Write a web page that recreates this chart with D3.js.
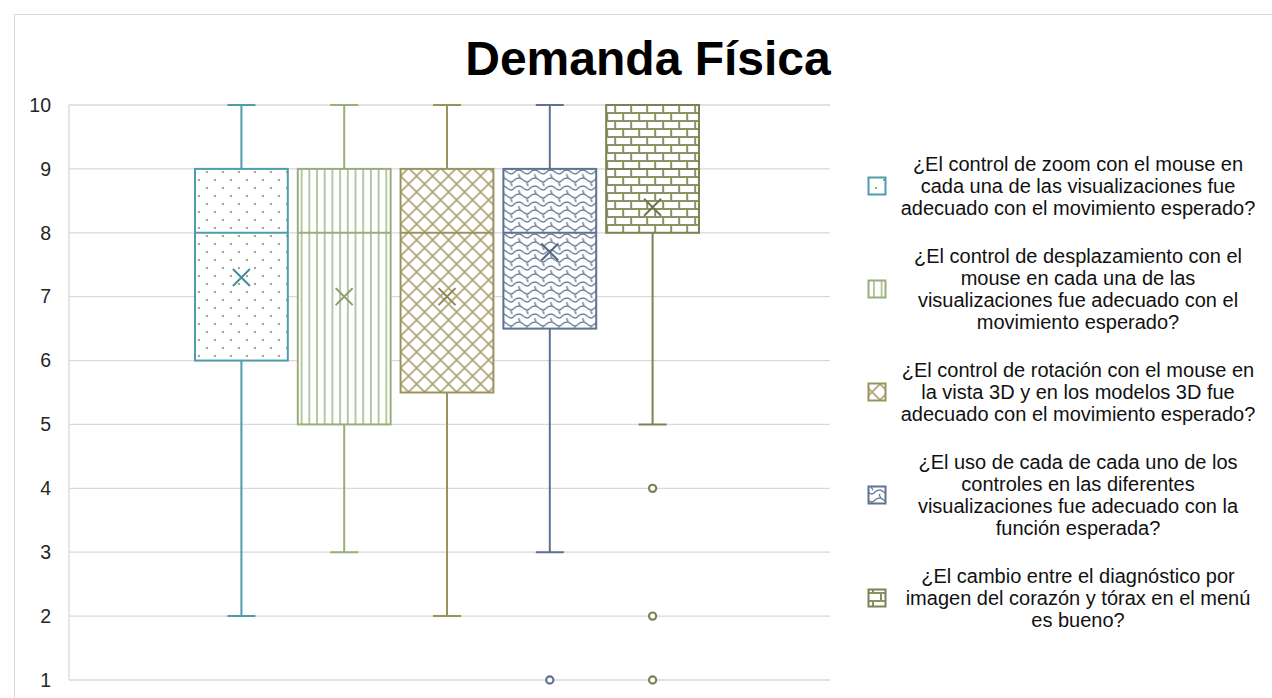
<!DOCTYPE html>
<html>
<head>
<meta charset="utf-8">
<script src="https://cdn.jsdelivr.net/npm/d3@7"></script>
<style>
  body { margin: 0; background: #fff; }
  svg { display: block; font-family: "Liberation Sans", Arial, sans-serif; }
</style>
</head>
<body>
<svg width="1272" height="698"></svg>
<script>
// series (one box each)
const seriesNames = [
  "¿El control de zoom con el mouse en cada una de las visualizaciones fue adecuado con el movimiento esperado?",
  "¿El control de desplazamiento con el mouse en cada una de las visualizaciones fue adecuado con el movimiento esperado?",
  "¿El control de rotación con el mouse en la vista 3D y en los modelos 3D fue adecuado con el movimiento esperado?",
  "¿El uso de cada de cada uno de los controles en las diferentes visualizaciones fue adecuado con la función esperada?",
  "¿El cambio entre el diagnóstico por imagen del corazón y tórax en el menú es bueno?"
];
const legendLines = [
  ["¿El control de zoom con el mouse en", "cada una de las visualizaciones fue", "adecuado con el movimiento esperado?"],
  ["¿El control de desplazamiento con el", "mouse en cada una de las", "visualizaciones fue adecuado con el", "movimiento esperado?"],
  ["¿El control de rotación con el mouse en", "la vista 3D y en los modelos 3D fue", "adecuado con el movimiento esperado?"],
  ["¿El uso de cada de cada uno de los", "controles en las diferentes", "visualizaciones fue adecuado con la", "función esperada?"],
  ["¿El cambio entre el diagnóstico por", "imagen del corazón y tórax en el menú", "es bueno?"]
];
const mins    = [2, 3, 2, 3, 5];
const q1s     = [6, 5, 5.5, 6.5, 8];
const medians = [8, 8, 8, 8, 9];
const q3s     = [9, 9, 9, 9, 10];
const maxs    = [10, 10, 10, 10, 10];
const means   = [7.3, 7, 7, 7.7, 8.4];
const outliers = [[], [], [], [1], [4, 2, 1]];
const yTicks = [1, 2, 3, 4, 5, 6, 7, 8, 9, 10];

const strokeColors  = ["#4f9cae", "#9aad7c", "#9b935f", "#5f7390", "#7b8355"];
const patternColors = ["#8a8e6a", "#a9ba8c", "#aaa26f", "#6f829c", "#8a9263"];

const svg = d3.select("svg");
const grid = "#d9d9d9";

// outer chart frame
svg.append("rect")
  .attr("x", 14.5).attr("y", 14.5)
  .attr("width", 1300).attr("height", 720)
  .attr("fill", "#fff").attr("stroke", grid);

// patterns
const defs = svg.append("defs");
function pat(id, w, h) {
  const p = defs.append("pattern").attr("id", id)
    .attr("patternUnits", "userSpaceOnUse")
    .attr("width", w).attr("height", h);
  p.append("rect").attr("width", w).attr("height", h).attr("fill", "#fff");
  return p;
}
let p0 = pat("p0", 16, 16);
p0.append("circle").attr("cx", 4).attr("cy", 4).attr("r", 1.1).attr("fill", patternColors[0]);
p0.append("circle").attr("cx", 12).attr("cy", 12).attr("r", 1.1).attr("fill", patternColors[0]);

let p1 = pat("p1", 7.7, 8);
p1.append("line").attr("x1", 3.8).attr("x2", 3.8).attr("y1", 0).attr("y2", 8)
  .attr("stroke", patternColors[1]).attr("stroke-width", 1.6);

let p2 = pat("p2", 16, 16);
p2.append("path").attr("d", "M0,0L16,16M16,0L0,16M-4,12L4,20M12,-4L20,4M12,20L20,12M-4,4L4,-4")
  .attr("stroke", patternColors[2]).attr("stroke-width", 1.6).attr("fill", "none");

let p3 = pat("p3", 16, 16);
p3.append("path")
  .attr("d", "M0,2 C3,2 4,6 8,6 C11,6 10,2 16,2 M0,10 C3,10 4,14 8,14 C11,14 10,10 16,10 M8,6 C6,8 10,9 8,10 M0,14 C-2,16 2,17 0,18 M16,14 C14,16 18,17 16,18 M0,-2 C-2,0 2,1 0,2 M16,-2 C14,0 18,1 16,2")
  .attr("stroke", patternColors[3]).attr("stroke-width", 1.4).attr("fill", "none");

let p4 = pat("p4", 16, 16);
p4.append("path").attr("d", "M0,1H16M0,9H16M1,1V9M9,9V17")
  .attr("stroke", patternColors[4]).attr("stroke-width", 2).attr("fill", "none");

// scales
const plotLeft = 69, plotRight = 830;
const y = d3.scaleLinear().domain([1, 10]).range([680, 105]);
const x = d3.scaleBand()
  .domain(d3.range(seriesNames.length))
  .range([195, 699])
  .paddingInner(0.097)
  .paddingOuter(0);

// gridlines + tick labels
svg.append("g").selectAll("line").data(yTicks).join("line")
  .attr("x1", plotLeft).attr("x2", plotRight)
  .attr("y1", d => y(d)).attr("y2", d => y(d))
  .attr("stroke", grid).attr("stroke-width", 1.3);
svg.append("line")
  .attr("x1", plotLeft).attr("x2", plotLeft)
  .attr("y1", y(10)).attr("y2", y(1))
  .attr("stroke", grid).attr("stroke-width", 1.3);
svg.append("g").selectAll("text").data(yTicks).join("text")
  .attr("x", 51).attr("y", d => y(d))
  .attr("dy", "0.35em")
  .attr("text-anchor", "end")
  .attr("font-size", 19.5)
  .attr("fill", "#262626")
  .text(d => d);

// title
svg.append("text")
  .attr("x", 648).attr("y", 75)
  .attr("text-anchor", "middle")
  .attr("font-size", 48)
  .attr("font-weight", "bold")
  .attr("fill", "#000")
  .text("Demanda Física");

// boxes
const idx = d3.range(seriesNames.length);
const bw = x.bandwidth();
const boxes = svg.append("g").selectAll("g").data(idx).join("g")
  .attr("transform", i => `translate(${x(i)},0)`);

// whiskers
boxes.append("path")
  .attr("d", i => {
    const c = bw / 2;
    return `M${c},${y(maxs[i])}V${y(q3s[i])}M${c},${y(q1s[i])}V${y(mins[i])}` +
      `M${c - 14},${y(maxs[i])}H${c + 14}M${c - 14},${y(mins[i])}H${c + 14}`;
  })
  .attr("stroke", i => strokeColors[i]).attr("stroke-width", 2).attr("fill", "none");

boxes.append("rect")
  .attr("x", 0).attr("width", bw)
  .attr("y", i => y(q3s[i]))
  .attr("height", i => y(q1s[i]) - y(q3s[i]))
  .attr("fill", i => `url(#p${i})`)
  .attr("stroke", i => strokeColors[i]).attr("stroke-width", 2);

boxes.append("line")
  .attr("x1", 0).attr("x2", bw)
  .attr("y1", i => y(medians[i])).attr("y2", i => y(medians[i]))
  .attr("stroke", i => strokeColors[i]).attr("stroke-width", 2);

// mean markers
boxes.append("path")
  .attr("d", i => {
    const c = bw / 2, m = y(means[i]), s = 8.5;
    return `M${c - s},${m - s}L${c + s},${m + s}M${c + s},${m - s}L${c - s},${m + s}`;
  })
  .attr("stroke", i => d3.color(strokeColors[i]).darker(0.3)).attr("stroke-width", 2);

// outliers
boxes.each(function (i) {
  d3.select(this).selectAll("circle").data(outliers[i]).join("circle")
    .attr("cx", bw / 2).attr("cy", d => y(d)).attr("r", 3.6)
    .attr("fill", "#fff")
    .attr("stroke", strokeColors[i]).attr("stroke-width", 2.2);
});

// legend
const lineH = 22, gap = 26, textX = 1078;
let ly = 164;
const legend = svg.append("g");
legendLines.forEach((lines, i) => {
  const g = legend.append("g");
  lines.forEach((t, k) => {
    g.append("text")
      .attr("x", textX).attr("y", ly + k * lineH)
      .attr("dy", "0.35em")
      .attr("text-anchor", "middle")
      .attr("font-size", 20)
      .attr("fill", "#111")
      .text(t);
  });
  const mid = ly + (lines.length - 1) * lineH / 2;
  g.append("rect")
    .attr("x", 868.5).attr("y", mid - 8.5)
    .attr("width", 17).attr("height", 17)
    .attr("fill", `url(#p${i})`)
    .attr("stroke", strokeColors[i]).attr("stroke-width", 2);
  ly += lines.length * lineH + gap;
});
</script>
</body>
</html>
